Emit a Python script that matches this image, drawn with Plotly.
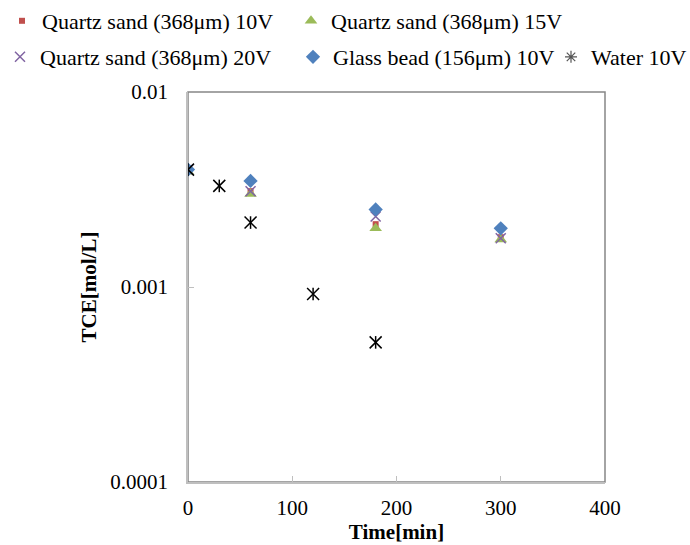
import plotly.graph_objects as go

# ---- data ----
t_sand = [0, 60, 180, 300]
q10 = [0.0040, 0.0031, 0.0021, 0.0018]
q15 = [0.0039, 0.0030, 0.0020, 0.00175]
q20 = [0.0040, 0.0031, 0.0023, 0.00178]
glass = [0.0040, 0.0035, 0.0025, 0.0020]
t_water = [0, 30, 60, 120, 180]
water = [0.0040, 0.0033, 0.00214, 0.00092, 0.00052]

names = ["Quartz sand (368μm) 10V", "Quartz sand (368μm) 15V",
         "Quartz sand (368μm) 20V", "Glass bead (156μm) 10V", "Water 10V"]
x_ticks = [0, 100, 200, 300, 400]
y_ticks = [0.0001, 0.001, 0.01]
y_ticklabels = ["0.0001", "0.001", "0.01"]

FONT = "Liberation Serif, Times New Roman, serif"
W, H = 690, 545

fig = go.Figure()
fig.add_trace(go.Scatter(x=t_sand, y=q10, mode="markers", name=names[0], legend="legend",
                         marker=dict(symbol="square", size=6, color="#C0504D")))
fig.add_trace(go.Scatter(x=t_sand, y=q15, mode="markers", name=names[1], legend="legend2",
                         marker=dict(symbol="triangle-up", size=11, color="#9BBB59")))
fig.add_trace(go.Scatter(x=t_sand, y=q20, mode="markers", name=names[2], legend="legend3",
                         marker=dict(symbol="x-thin-open", size=10, color="#8064A2",
                                     line=dict(color="#8064A2", width=1.5))))
fig.add_trace(go.Scatter(x=t_sand, y=glass, mode="markers", name=names[3], legend="legend4",
                         marker=dict(symbol="diamond", size=11, color="#4F81BD")))
# water: X + vertical bar (asterisk)
fig.add_trace(go.Scatter(x=t_water, y=water, mode="markers", name=names[4], legend="legend5",
                         showlegend=False, legendgroup="w",
                         marker=dict(symbol="x-thin-open", size=12, color="black",
                                     line=dict(color="black", width=1.5))))
fig.add_trace(go.Scatter(x=t_water, y=water, mode="markers", name=names[4], legend="legend5",
                         showlegend=False, legendgroup="w",
                         marker=dict(symbol="line-ns-open", size=9, color="black",
                                     line=dict(color="black", width=1.5))))
fig.add_trace(go.Scatter(x=[None], y=[None], mode="markers", name=names[4], legend="legend5",
                         legendgroup="w",
                         marker=dict(symbol="asterisk-open", size=10, color="#555555",
                                     line=dict(color="#555555", width=1.2))))

fig.add_shape(type="rect", xref="paper", yref="paper", x0=0, x1=1, y0=0, y1=1,
              line=dict(color="#868686", width=1.5), layer="below")

axis_common = dict(showgrid=False, zeroline=False, showline=True, linecolor="#BFBFBF",
                   linewidth=1.5, ticks="inside", ticklen=6, tickcolor="#BFBFBF",
                   tickfont=dict(family=FONT, size=21, color="black"))

fig.update_xaxes(range=[0, 400], tickvals=x_ticks, ticktext=[str(v) for v in x_ticks],
                 title=dict(text="<b>Time[min]</b>", font=dict(family=FONT, size=21, color="black"),
                            standoff=0),
                 ticklabelstandoff=6, **axis_common)
fig.update_yaxes(type="log", range=[-4, -2], tickvals=y_ticks, ticktext=y_ticklabels,
                 title=dict(text="<b>TCE[mol/L]</b>", font=dict(family=FONT, size=21, color="black"),
                            standoff=8),
                 ticklabelstandoff=14, **axis_common)


def leg(x_px, y_px):
    return dict(orientation="h", font=dict(family=FONT, size=22, color="black"),
                bgcolor="rgba(0,0,0,0)", borderwidth=0, xref="container", yref="container",
                itemsizing="trace", x=x_px / W, y=1 - y_px / H,
                xanchor="left", yanchor="middle")


fig.update_layout(
    width=W, height=H,
    showlegend=True,
    margin=dict(l=188, r=85, t=92, b=63, autoexpand=False),
    paper_bgcolor="white", plot_bgcolor="white",
    font=dict(family=FONT, size=21, color="black"),
    legend=leg(2, 21),
    legend2=leg(291, 21),
    legend3=leg(-1, 57),
    legend4=leg(293, 57),
    legend5=leg(551, 57),
)

fig.write_html("out.html")
